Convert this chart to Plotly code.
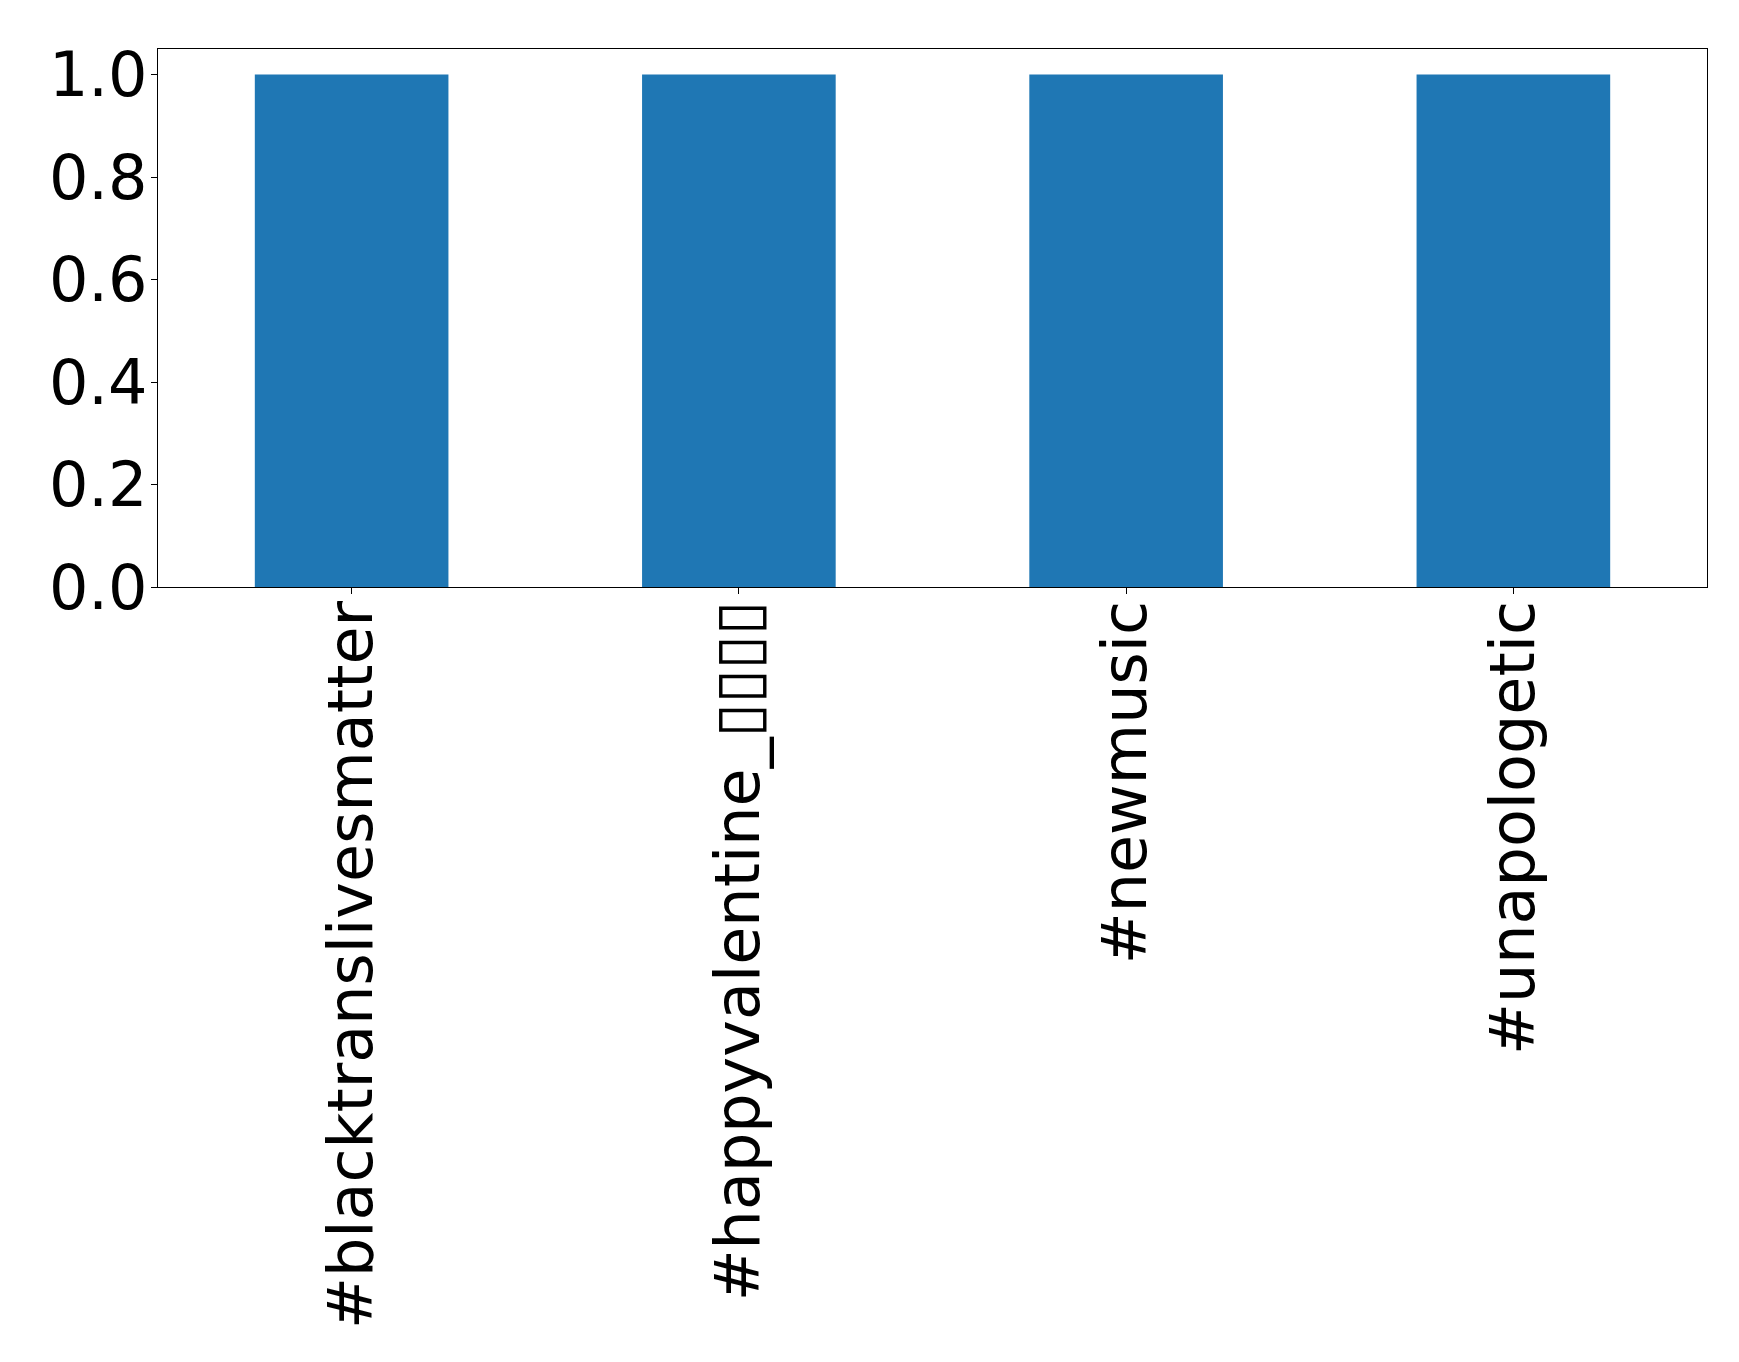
import plotly.graph_objects as go

categories = ["#blacktranslivesmatter", "#happyvalentine_▯▯▯▯", "#newmusic", "#unapologetic"]
values = [1, 1, 1, 1]
y_ticks = [0.0, 0.2, 0.4, 0.6, 0.8, 1.0]
y_tick_labels = ["0.0", "0.2", "0.4", "0.6", "0.8", "1.0"]

fig = go.Figure(
    go.Bar(
        x=list(range(len(categories))),
        y=values,
        width=0.5,
        marker=dict(color="#1f77b4", line=dict(width=0)),
    )
)

font_family = "DejaVu Sans"
fig.update_layout(
    width=1739,
    height=1362,
    margin=dict(l=150, r=40, t=41, b=783, pad=0),
    plot_bgcolor="white",
    paper_bgcolor="white",
    showlegend=False,
    font=dict(family=font_family, size=62, color="black"),
)
fig.update_xaxes(
    range=[-0.5, len(categories) - 0.5],
    tickmode="array",
    tickvals=list(range(len(categories))),
    ticktext=categories,
    tickangle=-90,
    showline=True,
    linecolor="black",
    linewidth=1.2,
    mirror=True,
    ticks="outside",
    ticklen=6,
    tickwidth=1.2,
    tickcolor="black",
    showgrid=False,
    zeroline=False,
    automargin=False,
    ticklabelstandoff=-18,
    tickfont=dict(family=font_family, size=62, color="black"),
)
fig.update_yaxes(
    range=[0, 1.05],
    tickmode="array",
    tickvals=y_ticks,
    ticktext=y_tick_labels,
    showline=True,
    linecolor="black",
    linewidth=1.2,
    mirror=True,
    ticks="outside",
    ticklen=6,
    tickwidth=1.2,
    tickcolor="black",
    showgrid=False,
    zeroline=False,
    automargin=False,
    ticklabelstandoff=-9,
    tickfont=dict(family=font_family, size=62, color="black"),
)

fig.write_html("out.html")
